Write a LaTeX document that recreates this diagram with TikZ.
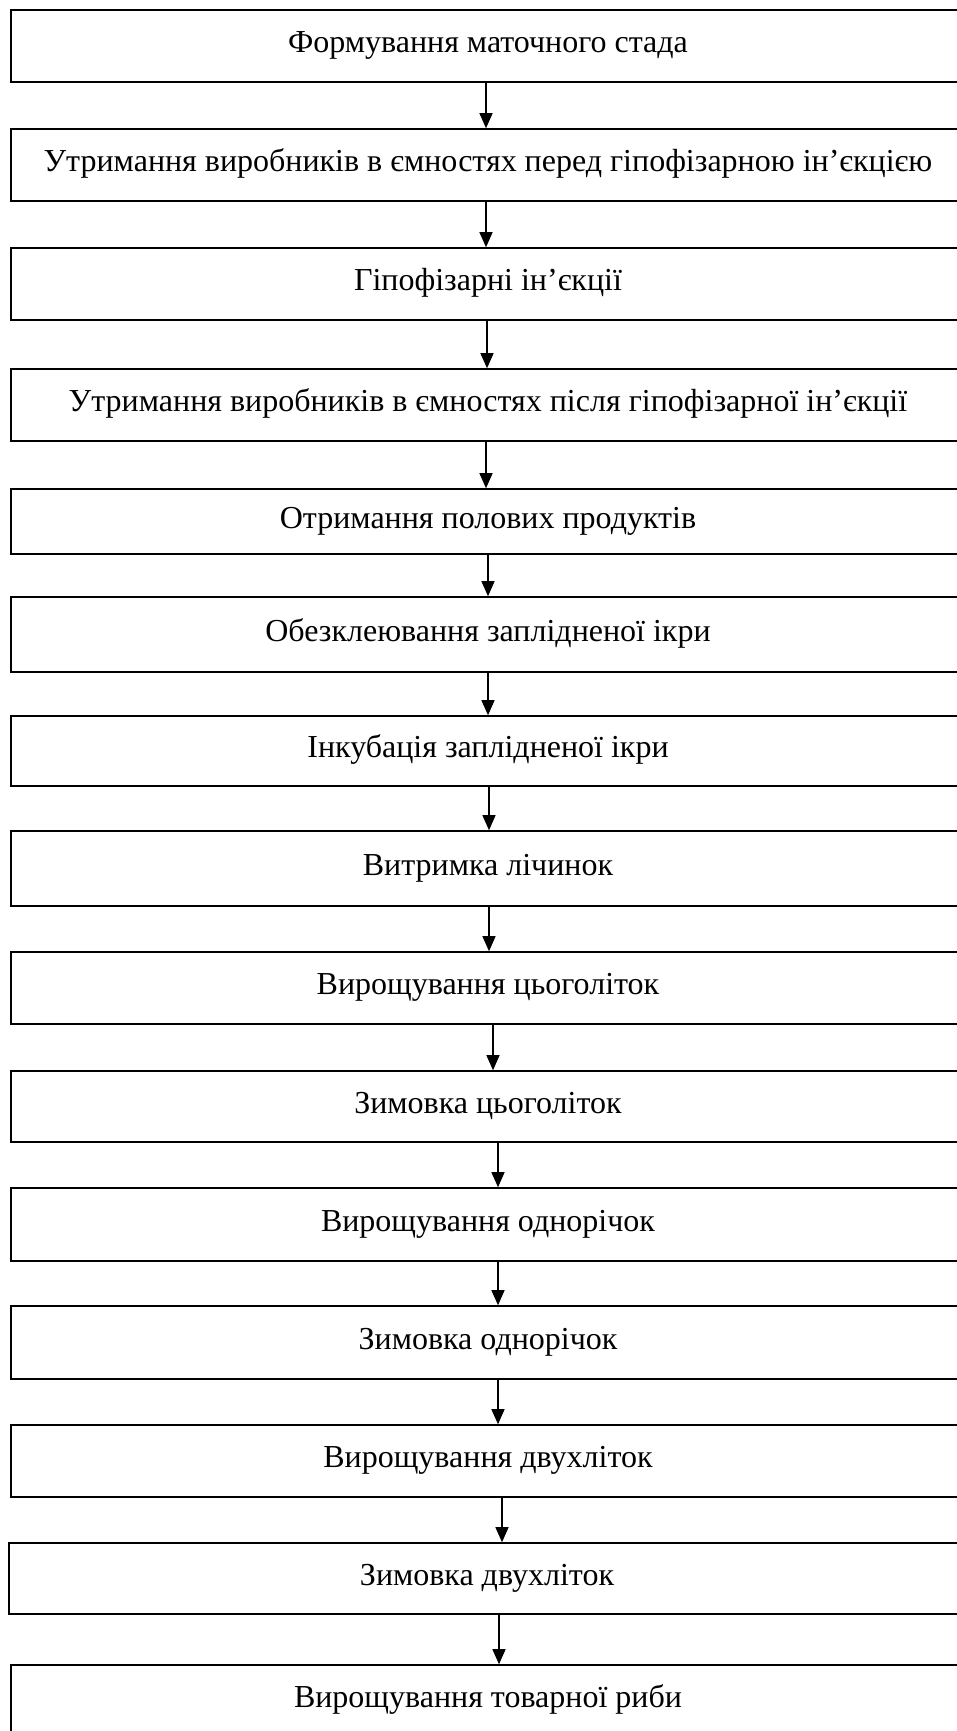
\documentclass[tikz,border=0pt]{standalone}
\usepackage{fontspec}
\setmainfont{Liberation Serif}
\usetikzlibrary{arrows.meta}
\begin{document}
\begin{tikzpicture}[x=1pt,y=-1pt,
  box/.style={draw=black, line width=1.6pt, rectangle, inner sep=0pt,
    minimum width=954pt, text height=23pt, text depth=10pt,
    font=\fontsize{32}{38}\selectfont},
  arr/.style={line width=1.3pt, -{Triangle[length=15pt,width=13pt]}, shorten >=0pt}]
\path[use as bounding box] (0,0) rectangle (957,1731);
\clip (0,0) rectangle (957,1731);
\node[box, minimum height=72pt] (b1) at (488,46) {Формування маточного стада};
\node[box, minimum height=72pt] (b2) at (488,165) {Утримання виробників в ємностях перед гіпофізарною ін’єкцією};
\node[box, minimum height=72pt] (b3) at (488,284) {Гіпофізарні ін’єкції};
\node[box, minimum height=72pt] (b4) at (488,405) {Утримання виробників в ємностях після гіпофізарної ін’єкції};
\node[box, minimum height=65pt] (b5) at (488,521.5) {Отримання полових продуктів};
\node[box, minimum height=75pt] (b6) at (488,634.5) {Обезклеювання заплідненої ікри};
\node[box, minimum height=70pt] (b7) at (488,751) {Інкубація заплідненої ікри};
\node[box, minimum height=75pt] (b8) at (488,868.5) {Витримка лічинок};
\node[box, minimum height=72pt] (b9) at (488,988) {Вирощування цьоголіток};
\node[box, minimum height=71pt] (b10) at (488,1106.5) {Зимовка цьоголіток};
\node[box, minimum height=73pt] (b11) at (488,1224.5) {Вирощування однорічок};
\node[box, minimum height=73pt] (b12) at (488,1342.5) {Зимовка однорічок};
\node[box, minimum height=72pt] (b13) at (488,1461) {Вирощування двухліток};
\node[box, minimum height=71pt, minimum width=956pt] (b14) at (487,1578.5) {Зимовка двухліток};
\node[box, minimum height=72pt] (b15) at (488,1701) {Вирощування товарної риби};
\draw[arr] (b1.south -| 486,0) -- (b2.north -| 486,0);
\draw[arr] (b2.south -| 486,0) -- (b3.north -| 486,0);
\draw[arr] (b3.south -| 487,0) -- (b4.north -| 487,0);
\draw[arr] (b4.south -| 486,0) -- (b5.north -| 486,0);
\draw[arr] (b5.south -| 488,0) -- (b6.north -| 488,0);
\draw[arr] (b6.south -| 488,0) -- (b7.north -| 488,0);
\draw[arr] (b7.south -| 489,0) -- (b8.north -| 489,0);
\draw[arr] (b8.south -| 489,0) -- (b9.north -| 489,0);
\draw[arr] (b9.south -| 493,0) -- (b10.north -| 493,0);
\draw[arr] (b10.south -| 498,0) -- (b11.north -| 498,0);
\draw[arr] (b11.south -| 498,0) -- (b12.north -| 498,0);
\draw[arr] (b12.south -| 498,0) -- (b13.north -| 498,0);
\draw[arr] (b13.south -| 502,0) -- (b14.north -| 502,0);
\draw[arr] (b14.south -| 499,0) -- (b15.north -| 499,0);
\end{tikzpicture}
\end{document}
